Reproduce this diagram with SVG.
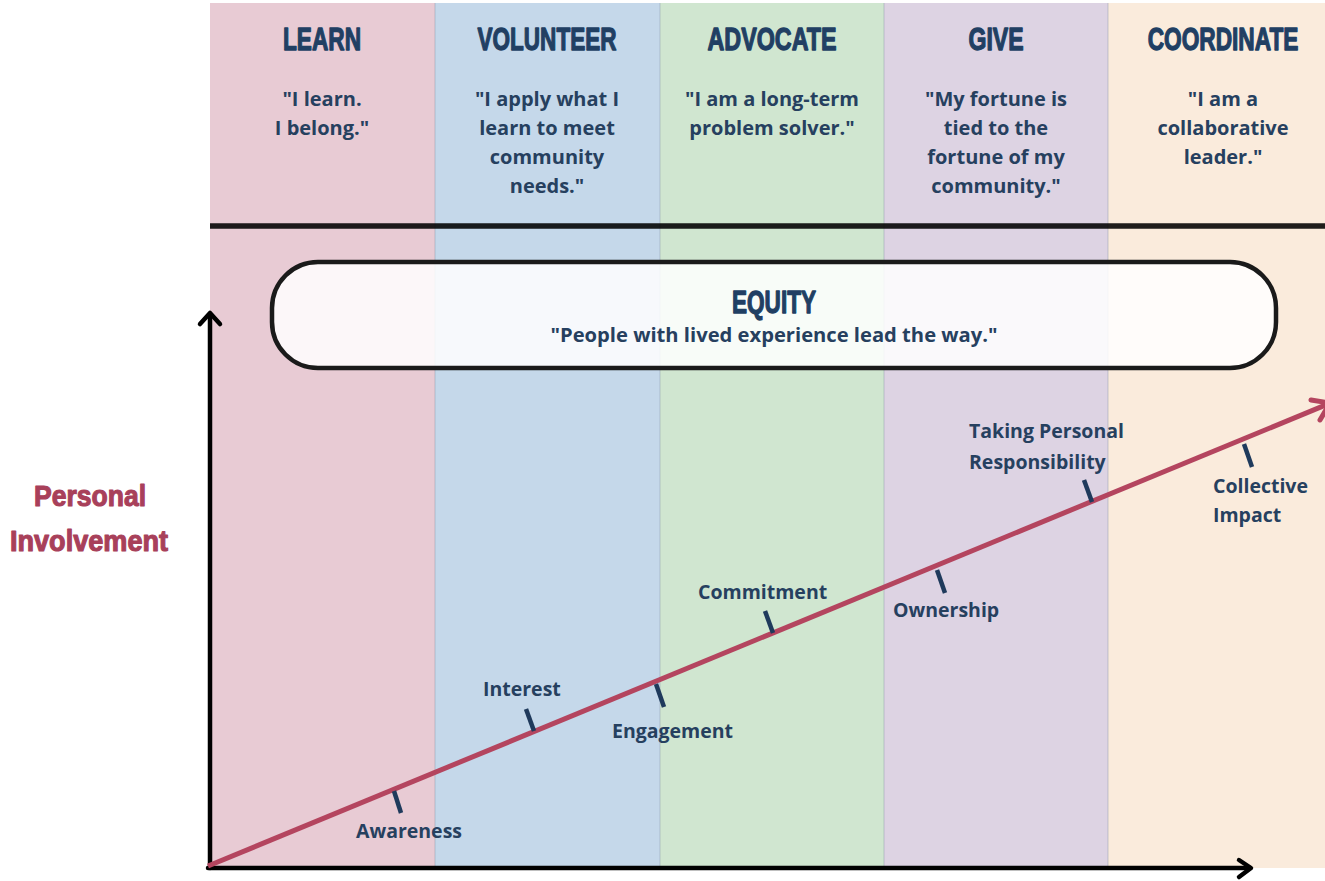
<svg xmlns="http://www.w3.org/2000/svg" width="1325" height="881" viewBox="0 0 1325 881">
<style>
.title{font-family:"Liberation Sans",Arial,sans-serif;font-weight:700;font-size:32px;fill:#213f63;stroke:#213f63;stroke-width:1.3;stroke-linejoin:round;text-anchor:middle}
.quote{font-family:"Open Sans","Noto Sans",sans-serif;font-weight:700;font-size:20px;fill:#26405f;text-anchor:middle}
.lbl{font-family:"Open Sans","Noto Sans",sans-serif;font-weight:700;font-size:19.5px;fill:#26405f}
.ylbl{font-family:"Liberation Sans",Arial,sans-serif;font-weight:700;font-size:29px;fill:#a8405a;stroke:#a8405a;stroke-width:1.1;stroke-linejoin:round;text-anchor:middle}
.tick{stroke:#1f3a5c;stroke-width:4.5;stroke-linecap:butt}
.axis{stroke:#000;stroke-width:4.5;fill:none;stroke-linecap:round;stroke-linejoin:round}
.sep{stroke:#8e9aa8;stroke-width:0.8;stroke-opacity:0.6}
</style>
<rect width="1325" height="881" fill="#ffffff"/>
<g id="band-learn">
<rect x="210" y="3" width="225" height="865" fill="#e8cbd4"/>
<text class="title" x="322" y="50" textLength="78" lengthAdjust="spacingAndGlyphs">LEARN</text>
<text class="quote" x="322" y="106">"I learn.</text>
<text class="quote" x="322" y="135">I belong."</text>
</g>
<g id="band-volunteer">
<rect x="435" y="3" width="225" height="865" fill="#c5d8ea"/>
<text class="title" x="547" y="50" textLength="139" lengthAdjust="spacingAndGlyphs">VOLUNTEER</text>
<text class="quote" x="547" y="106">"I apply what I</text>
<text class="quote" x="547" y="135">learn to meet</text>
<text class="quote" x="547" y="164">community</text>
<text class="quote" x="547" y="193">needs."</text>
</g>
<g id="band-advocate">
<rect x="660" y="3" width="224" height="865" fill="#d0e6d0"/>
<text class="title" x="772" y="50" textLength="129" lengthAdjust="spacingAndGlyphs">ADVOCATE</text>
<text class="quote" x="772" y="106">"I am a long-term</text>
<text class="quote" x="772" y="135">problem solver."</text>
</g>
<g id="band-give">
<rect x="884" y="3" width="224" height="865" fill="#ddd3e3"/>
<text class="title" x="996" y="50" textLength="55" lengthAdjust="spacingAndGlyphs">GIVE</text>
<text class="quote" x="996" y="106">"My fortune is</text>
<text class="quote" x="996" y="135">tied to the</text>
<text class="quote" x="996" y="164">fortune of my</text>
<text class="quote" x="996" y="193">community."</text>
</g>
<g id="band-coordinate">
<rect x="1108" y="3" width="217" height="865" fill="#faebdc"/>
<text class="title" transform="translate(1223,50) scale(0.709,1)" x="0" y="0">COORDINATE</text>
<text class="quote" x="1223" y="106">"I am a</text>
<text class="quote" x="1223" y="135">collaborative</text>
<text class="quote" x="1223" y="164">leader."</text>
</g>
<g id="separators">
<line class="sep" x1="435" y1="3" x2="435" y2="868"/>
<line class="sep" x1="660" y1="3" x2="660" y2="868"/>
<line class="sep" x1="884" y1="3" x2="884" y2="868"/>
<line class="sep" x1="1108" y1="3" x2="1108" y2="868"/>
<line x1="210" y1="226" x2="1325" y2="226" stroke="#000" stroke-opacity="0.88" stroke-width="5.5"/>
</g>
<g id="equity">
<rect x="272" y="262" width="1004" height="106" rx="46" ry="46" fill="#ffffff" fill-opacity="0.85" stroke="#1a1a1a" stroke-width="4.5"/>
<text class="title" x="774" y="313" textLength="84" lengthAdjust="spacingAndGlyphs">EQUITY</text>
<text class="quote" x="774" y="342" textLength="447" lengthAdjust="spacingAndGlyphs">"People with lived experience lead the way."</text>
</g>
<g id="y-label">
<text class="ylbl" x="90" y="506" textLength="112" lengthAdjust="spacingAndGlyphs">Personal</text>
<text class="ylbl" x="89" y="551" textLength="158" lengthAdjust="spacingAndGlyphs">Involvement</text>
</g>
<g id="connectors">
<polyline class="axis" points="210,868 210,314"/>
<polyline class="axis" points="200,324 210,313 220,324"/>
<polyline class="axis" points="208,868 1250,868"/>
<polyline class="axis" points="1239,860 1251,868 1239,877"/>
<line x1="208" y1="866" x2="1328" y2="404" stroke="#b4455f" stroke-width="5"/>
<polyline points="1311,400 1330,403 1320,420" fill="none" stroke="#b4455f" stroke-width="5" stroke-linejoin="round" stroke-linecap="round"/>
<line class="tick" x1="394" y1="791" x2="401" y2="813"/>
<line class="tick" x1="526" y1="709" x2="534" y2="731"/>
<line class="tick" x1="656" y1="684" x2="664" y2="707"/>
<line class="tick" x1="765" y1="611" x2="773" y2="633"/>
<line class="tick" x1="937" y1="570" x2="945" y2="593"/>
<line class="tick" x1="1084" y1="480" x2="1092" y2="502"/>
<line class="tick" x1="1244" y1="444" x2="1252" y2="467"/>
</g>
<g id="labels">
<text class="lbl" x="356" y="838">Awareness</text>
<text class="lbl" x="483" y="696">Interest</text>
<text class="lbl" x="612" y="738">Engagement</text>
<text class="lbl" x="698" y="599">Commitment</text>
<text class="lbl" x="893" y="617">Ownership</text>
<text class="lbl" x="969" y="438">Taking Personal</text>
<text class="lbl" x="969" y="469">Responsibility</text>
<text class="lbl" x="1213" y="493">Collective</text>
<text class="lbl" x="1213" y="522">Impact</text>
</g>
</svg>
